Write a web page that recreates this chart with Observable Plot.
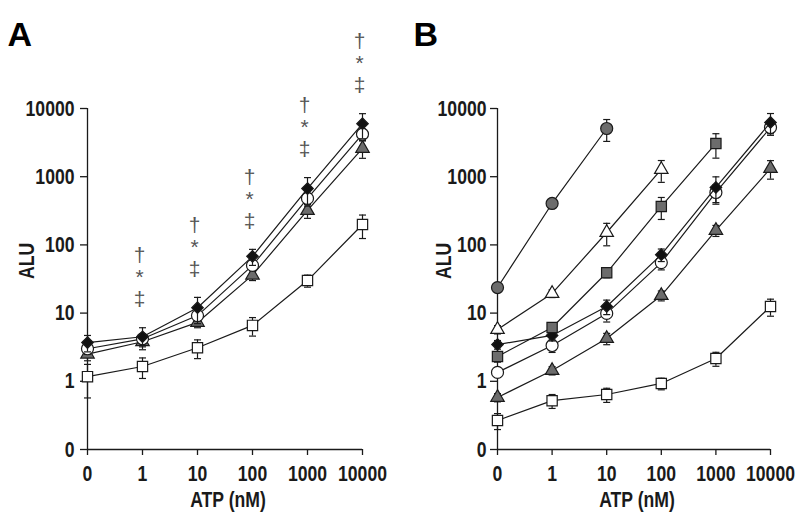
<!DOCTYPE html>
<html><head><meta charset="utf-8">
<script src="https://cdn.jsdelivr.net/npm/d3@7"></script>
<script src="https://cdn.jsdelivr.net/npm/@observablehq/plot@0.6"></script>
<style>
body{margin:0;background:#fff;}
#wrap{display:flex;width:800px;height:523px;background:#fff;}
</style></head><body><div id="wrap"></div>
<script>
// ---- categories / ticks ----
const atpLabels = ["0", "1", "10", "100", "1000", "10000"];
const atpIndex = [0, 1, 2, 3, 4, 5];
const yTicks = [0.1, 1, 10, 100, 1000, 10000];
const yTickLabels = ["0", "1", "10", "100", "1000", "10000"];

// ---- Panel A values (mean, sd) ----
const aDiamond      = [3.7, 4.5, 12, 68, 670, 6000];
const aDiamondSD    = [1.0, 1.6, 5, 18, 300, 2400];
const aCircle       = [3.0, 4.2, 9.2, 50, 480, 4200];
const aCircleSD     = [0.5, 0.6, 1.5, 8, 90, 800];
const aTriangle     = [2.5, 3.8, 7.3, 36, 320, 2600];
const aTriangleSD   = [0.5, 0.6, 1.2, 6, 75, 740];
const aSquare       = [1.17, 1.65, 3.1, 6.6, 30, 199];
const aSquareSD     = [0.6, 0.55, 0.95, 2, 6, 75];
const aSignifAt     = [1, 2, 3, 4, 5];
const signifSymbols = ["†", "*", "‡"];

// ---- Panel B values (mean, sd) ----
const bGrayCircle     = [23.7, 405, 5090, null, null, null];
const bGrayCircleSD   = [3, 60, 1800, null, null, null];
const bWhiteTriangle  = [5.75, 19.4, 152, 1276, null, null];
const bWhiteTriangleSD= [0.8, 2.5, 55, 450, null, null];
const bGraySquare     = [2.31, 6.15, 39, 366, 3070, null];
const bGraySquareSD   = [0.4, 0.9, 6, 130, 1200, null];
const bDiamond        = [3.46, 4.7, 12.5, 72, 695, 6240];
const bDiamondSD      = [0.5, 0.8, 3, 15, 300, 2200];
const bWhiteCircle    = [1.35, 3.35, 9.9, 55, 587, 5260];
const bWhiteCircleSD  = [0.2, 0.7, 2.5, 12, 170, 1000];
const bGrayTriangle   = [0.58, 1.44, 4.24, 18.1, 163, 1320];
const bGrayTriangleSD = [0.08, 0.2, 0.8, 3, 30, 400];
const bWhiteSquare    = [0.266, 0.52, 0.64, 0.93, 2.16, 12.5];
const bWhiteSquareSD  = [0.07, 0.12, 0.15, 0.18, 0.5, 3.5];

// ---- styles ----
const GRAY = "#6c6c6c";
const styles = {
  blackDiamond:  {symbol: "diamond2", fill: "#111", r: 5.2},
  whiteCircle:   {symbol: "circle",   fill: "white", r: 6},
  grayTriangle:  {symbol: "triangle", fill: GRAY, r: 5},
  whiteSquare:   {symbol: "square",   fill: "white", r: 5.8},
  grayCircle:    {symbol: "circle",   fill: GRAY, r: 6},
  whiteTriangle: {symbol: "triangle", fill: "white", r: 5},
  graySquare:    {symbol: "square",   fill: GRAY, r: 5.8}
};

const seriesA = [
  {name: "whiteSquare", v: aSquare, sd: aSquareSD},
  {name: "grayTriangle", v: aTriangle, sd: aTriangleSD},
  {name: "whiteCircle", v: aCircle, sd: aCircleSD},
  {name: "blackDiamond", v: aDiamond, sd: aDiamondSD}
];
const seriesB = [
  {name: "whiteSquare", v: bWhiteSquare, sd: bWhiteSquareSD},
  {name: "grayTriangle", v: bGrayTriangle, sd: bGrayTriangleSD},
  {name: "whiteCircle", v: bWhiteCircle, sd: bWhiteCircleSD},
  {name: "blackDiamond", v: bDiamond, sd: bDiamondSD},
  {name: "graySquare", v: bGraySquare, sd: bGraySquareSD},
  {name: "whiteTriangle", v: bWhiteTriangle, sd: bWhiteTriangleSD},
  {name: "grayCircle", v: bGrayCircle, sd: bGrayCircleSD}
];

const capSymbol = {draw(ctx) { ctx.moveTo(-3.5, 0); ctx.lineTo(3.5, 0); }};
const FONT = "'Liberation Sans', Arial, sans-serif";
const INK = "#1a1a1a";

function rowsOf(s) {
  return atpIndex.map(i => ({i, v: s.v[i], sd: s.sd[i]})).filter(d => d.v != null);
}

function panel({series, letter, marginLeft, marginRight, extra = []}) {
  const isA = letter === "A";
  const marks = [
    Plot.ruleY([0.1], {stroke: INK, strokeWidth: 1.3}),
    Plot.ruleX([0], {y1: 0.1, y2: 10000, stroke: INK, strokeWidth: 1.3}),
    Plot.axisX({ticks: atpIndex, tickFormat: i => atpLabels[i], tickSize: 6, tickPadding: 10,
      stroke: INK, strokeWidth: 1.3, fill: INK, label: null, className: "narrow"}),
    Plot.axisY({ticks: yTicks, tickFormat: d => yTickLabels[yTicks.indexOf(d)], tickSize: 7, tickPadding: isA ? 6 : 4,
      stroke: INK, strokeWidth: 1.3, fill: INK, label: null, className: "narrow"}),
    Plot.text(["ALU"], {frameAnchor: "left", dx: isA ? -61 : -54, rotate: -90, fill: INK, className: "narrow"}),
    Plot.text(["ATP (nM)"], {frameAnchor: "bottom", dy: 57, dx: 3, fill: INK, className: "narrow"}),
    Plot.text([letter], {frameAnchor: "top-left", dx: -marginLeft + (isA ? 7 : 13), dy: -87,
      textAnchor: "start", fontSize: 34, fill: "#000"})
  ];
  for (const s of series) {
    const rows = rowsOf(s);
    const st = styles[s.name];
    marks.push(
      Plot.line(rows, {x: "i", y: "v", stroke: INK, strokeWidth: 1.2}),
      Plot.ruleX(rows, {x: "i", y1: d => d.v - d.sd, y2: d => d.v + d.sd, stroke: INK, strokeWidth: 1.2}),
      Plot.dot(rows, {x: "i", y: d => d.v + d.sd, symbol: capSymbol, stroke: INK, strokeWidth: 1.2, fill: "none"}),
      Plot.dot(rows, {x: "i", y: d => d.v - d.sd, symbol: capSymbol, stroke: INK, strokeWidth: 1.2, fill: "none"}),
      Plot.dot(rows, {x: "i", y: "v", symbol: st.symbol, r: st.r, fill: st.fill, stroke: INK, strokeWidth: 1.2})
    );
  }
  marks.push(...extra);
  return Plot.plot({
    width: 400, height: 523,
    marginLeft, marginRight, marginTop: 108, marginBottom: 74,
    x: {type: "linear", domain: [0, 5]},
    y: {type: "log", domain: [0.1, 10000]},
    style: {fontFamily: FONT, fontSize: "22px", fontWeight: "bold", background: "white", overflow: "visible"},
    marks
  });
}

// significance annotations above the diamond series in panel A
const signifRows = aSignifAt.map(i => ({i, top: aDiamond[i] + aDiamondSD[i]}));
const signifMarks = signifSymbols.map((sym, k) =>
  Plot.text(signifRows, {x: "i", y: "top", text: () => sym, dx: -3, dy: [-72, -50, -28][k],
    fill: "#555", fontSize: 21, fontWeight: "normal"})
);

const wrap = document.getElementById("wrap");
wrap.append(panel({series: seriesA, letter: "A", marginLeft: 87, marginRight: 38, extra: signifMarks}));
wrap.append(panel({series: seriesB, letter: "B", marginLeft: 97, marginRight: 30}));

// condense the bold labels (the reference uses a narrow face)
wrap.querySelectorAll(".narrow text").forEach(t => {
  const w = t.getComputedTextLength();
  if (w > 0) {
    t.setAttribute("textLength", (w * 0.8).toFixed(2));
    t.setAttribute("lengthAdjust", "spacingAndGlyphs");
  }
});
</script></body></html>
